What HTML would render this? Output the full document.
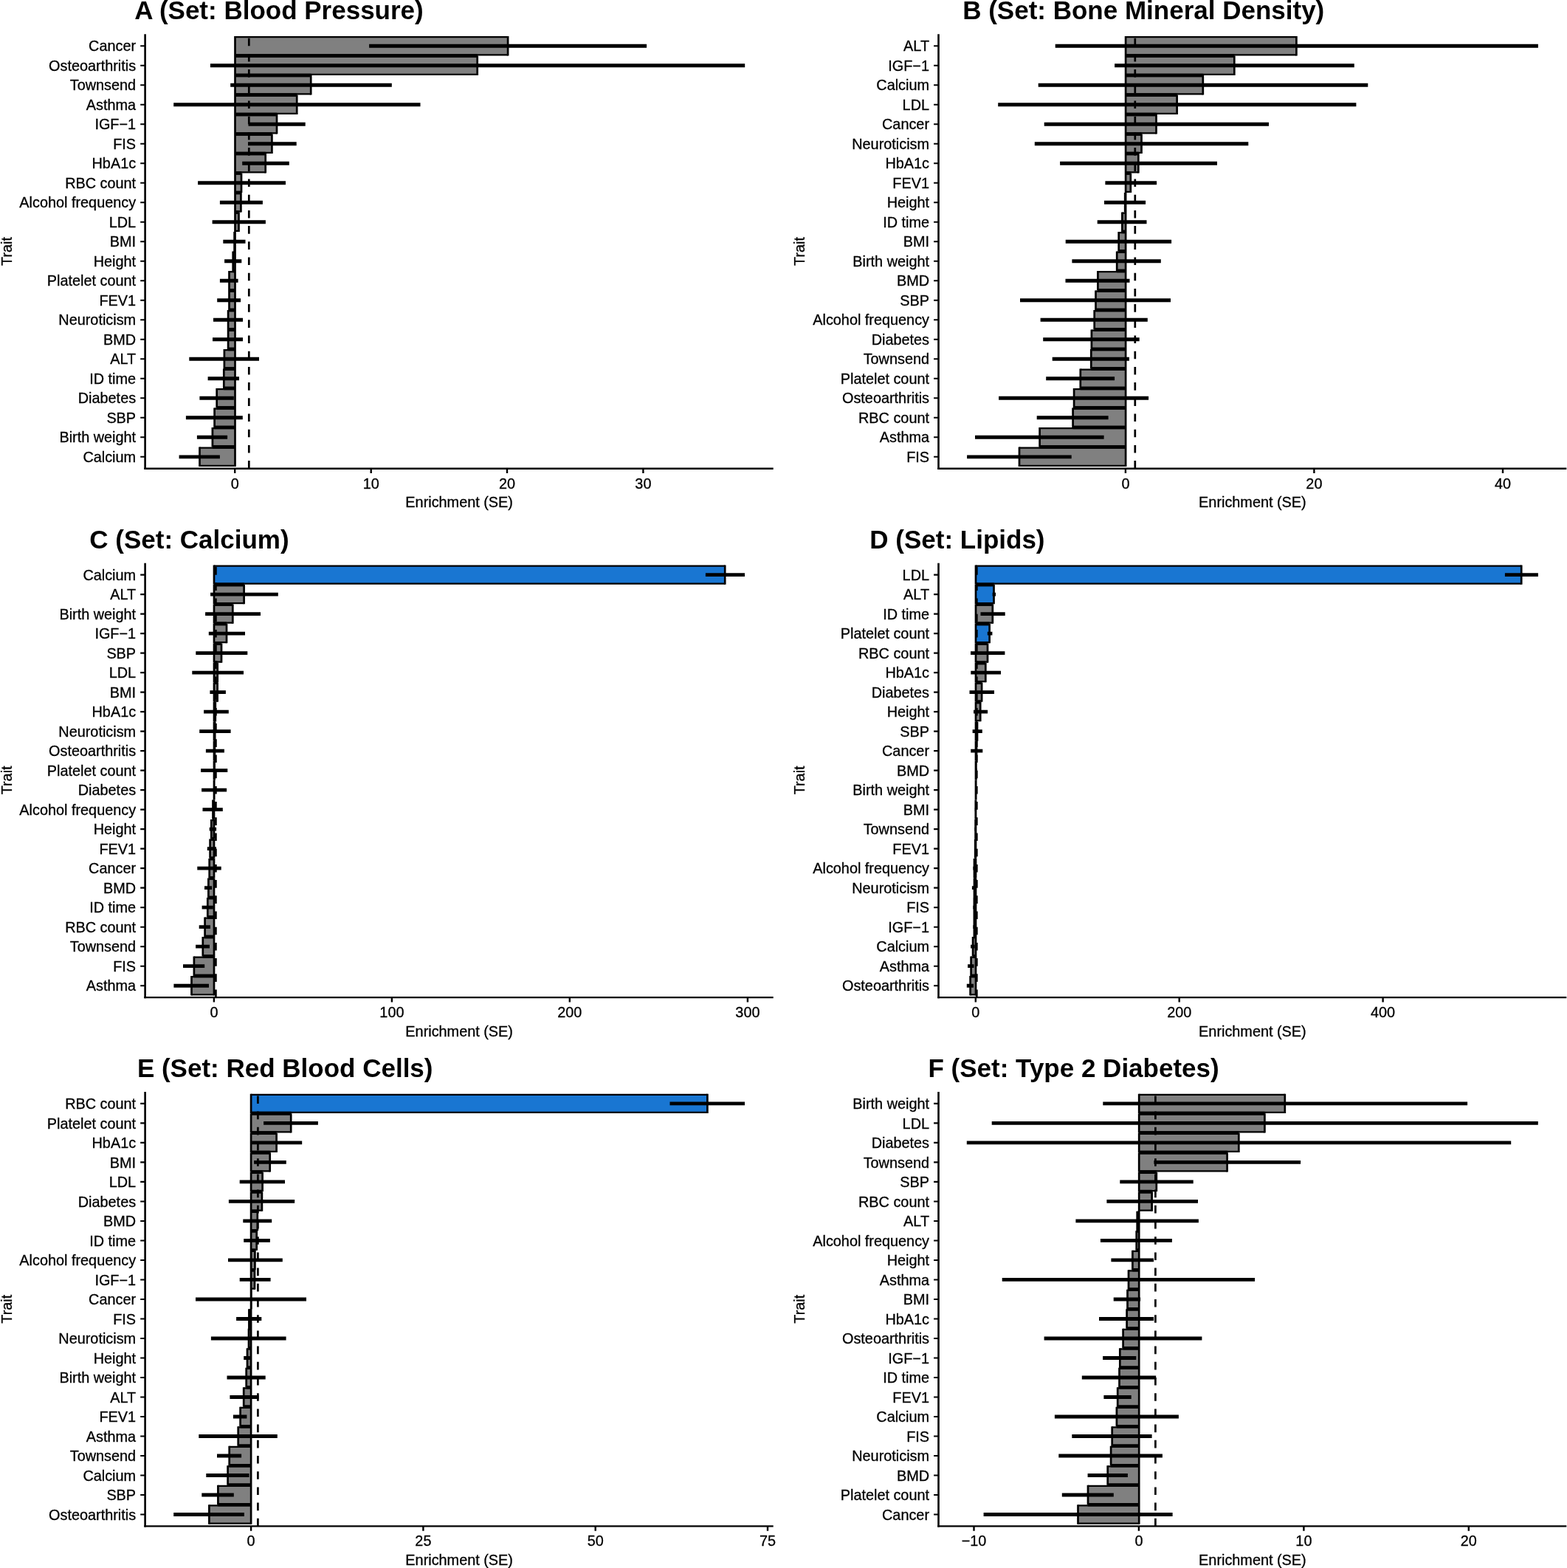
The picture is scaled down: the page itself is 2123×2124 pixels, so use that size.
<!DOCTYPE html>
<html lang="en"><head><meta charset="utf-8"><title>Enrichment (SE) by trait set</title>
<style>html,body{margin:0;padding:0;background:#fff}body{width:2123px;height:2124px;overflow:hidden}svg{display:block}text{font-family:"Liberation Sans",sans-serif;fill:#000}.t{font-size:35px;font-weight:bold}.l{font-size:19.85px;stroke:#000;stroke-width:.3px}.y{text-anchor:end}.x{text-anchor:middle}path,line{fill:none;stroke:#000}.ya{stroke-width:2.6}.xa{stroke-width:2.35}.yt{stroke-width:2.1}.xt{stroke-width:2.4}.g{fill:#808080;stroke:none}.u{fill:#1976d2;stroke:none}.k{fill:#000;stroke:none}.bh{stroke-width:2.25}.bv{stroke-width:2.7}.e{stroke-width:4.85}.d{stroke-width:2.7;stroke-dasharray:10.6 10.6}</style></head><body>
<svg width="2123" height="2124" viewBox="0 0 2123 2124">
<rect class="k" width="2123" height="2124" style="fill:#fff"/>
<g>
<text class="t" x="182.2" y="26">A (Set: Blood Pressure)</text>
<text class="l x" transform="translate(15.7 340.5) rotate(-90)">Trait</text>
<path class="g" d="M318.5 50.13H688.1V74.28H318.5ZM318.5 76.63H646.7V100.78H318.5ZM318.5 103.13H421.2V127.29H318.5ZM318.5 129.64H402.2V153.79H318.5ZM318.5 156.14H375V180.3H318.5ZM318.5 182.65H368.4V206.8H318.5ZM318.5 209.15H359.7V233.31H318.5ZM318.5 235.66H327V259.81H318.5ZM318.5 262.16H326.4V286.32H318.5ZM318.5 288.67H323.5V312.82H318.5ZM317.6 315.17H318.5V339.32H317.6ZM315.7 341.68H318.5V365.83H315.7ZM310.5 368.18H318.5V392.33H310.5ZM310.5 394.68H318.5V418.84H310.5ZM309.1 421.19H318.5V445.34H309.1ZM309.1 447.69H318.5V471.85H309.1ZM303.9 474.2H318.5V498.35H303.9ZM303.3 500.7H318.5V524.86H303.3ZM293.7 527.21H318.5V551.36H293.7ZM290.6 553.71H318.5V577.87H290.6ZM287.9 580.22H318.5V604.37H287.9ZM270.5 606.72H318.5V630.87H270.5Z"/>
<path class="k" d="M318.5 73.15H646.7V77.76H318.5ZM318.5 99.66H421.2V104.26H318.5ZM318.5 126.16H402.2V130.76H318.5ZM318.5 152.67H375V157.27H318.5ZM318.5 179.17H368.4V183.77H318.5ZM318.5 205.68H359.7V210.28H318.5ZM318.5 232.18H327V236.78H318.5ZM318.5 258.69H326.4V263.29H318.5ZM318.5 285.19H323.5V289.79H318.5ZM317.6 338.2H318.5V342.8H317.6ZM315.7 364.7H318.5V369.3H315.7ZM310.5 391.21H318.5V395.81H310.5ZM310.5 417.71H318.5V422.31H310.5ZM309.1 444.22H318.5V448.82H309.1ZM309.1 470.72H318.5V475.32H309.1ZM303.9 497.23H318.5V501.83H303.9ZM303.3 523.73H318.5V528.33H303.3ZM293.7 550.24H318.5V554.84H293.7ZM290.6 576.74H318.5V581.34H290.6ZM287.9 603.24H318.5V607.85H287.9Z"/>
<path class="bh" d="M318.5 50.13H688.1M318.5 74.28H688.1M318.5 76.63H646.7M318.5 100.78H646.7M318.5 103.13H421.2M318.5 127.29H421.2M318.5 129.64H402.2M318.5 153.79H402.2M318.5 156.14H375M318.5 180.3H375M318.5 182.65H368.4M318.5 206.8H368.4M318.5 209.15H359.7M318.5 233.31H359.7M318.5 235.66H327M318.5 259.81H327M318.5 262.16H326.4M318.5 286.32H326.4M318.5 288.67H323.5M318.5 312.82H323.5M317.6 315.17H318.5M317.6 339.32H318.5M315.7 341.68H318.5M315.7 365.83H318.5M310.5 368.18H318.5M310.5 392.33H318.5M310.5 394.68H318.5M310.5 418.84H318.5M309.1 421.19H318.5M309.1 445.34H318.5M309.1 447.69H318.5M309.1 471.85H318.5M303.9 474.2H318.5M303.9 498.35H318.5M303.3 500.7H318.5M303.3 524.86H318.5M293.7 527.21H318.5M293.7 551.36H318.5M290.6 553.71H318.5M290.6 577.87H318.5M287.9 580.22H318.5M287.9 604.37H318.5M270.5 606.72H318.5M270.5 630.87H318.5"/>
<path class="bv" d="M318.5 49V75.4M688.1 49V75.4M318.5 75.51V101.91M646.7 75.51V101.91M318.5 102.01V128.41M421.2 102.01V128.41M318.5 128.51V154.92M402.2 128.51V154.92M318.5 155.02V181.42M375 155.02V181.42M318.5 181.52V207.93M368.4 181.52V207.93M318.5 208.03V234.43M359.7 208.03V234.43M318.5 234.53V260.94M327 234.53V260.94M318.5 261.04V287.44M326.4 261.04V287.44M318.5 287.54V313.95M323.5 287.54V313.95M317.6 314.05V340.45M318.5 314.05V340.45M315.7 340.55V366.95M318.5 340.55V366.95M310.5 367.05V393.46M318.5 367.05V393.46M310.5 393.56V419.96M318.5 393.56V419.96M309.1 420.06V446.47M318.5 420.06V446.47M309.1 446.57V472.97M318.5 446.57V472.97M303.9 473.07V499.48M318.5 473.07V499.48M303.3 499.58V525.98M318.5 499.58V525.98M293.7 526.08V552.49M318.5 526.08V552.49M290.6 552.59V578.99M318.5 552.59V578.99M287.9 579.09V605.49M318.5 579.09V605.49M270.5 605.6V632M318.5 605.6V632"/>
<path class="e" d="M500.1 62.2H876.1M284.9 88.71H1009.2M312.2 115.21H530.8M235.2 141.72H569.5M336.5 168.22H413.7M336 194.73H401.7M328.2 221.23H391.8M268.1 247.73H387M297.9 274.24H355.9M287.6 300.74H359.9M302.3 327.25H332.5M304.1 353.75H327.3M297.9 380.26H322.6M294.2 406.76H326.1M289 433.27H329M288 459.77H329M256.3 486.27H351M281.6 512.78H324M270.4 539.28H316.8M251.9 565.79H328.8M266.9 592.29H308.1M242.6 618.8H297.9"/>
<line class="d" x1="337.3" x2="337.3" y1="634.7" y2="46.3" stroke-dashoffset="0"/>
<path class="xa" d="M195.3 634.7H1047.7"/>
<path class="ya" d="M196.6 46.3V635.87"/>
<path class="yt" d="M196.6 62.2h-6.4M196.6 88.71h-6.4M196.6 115.21h-6.4M196.6 141.72h-6.4M196.6 168.22h-6.4M196.6 194.73h-6.4M196.6 221.23h-6.4M196.6 247.73h-6.4M196.6 274.24h-6.4M196.6 300.74h-6.4M196.6 327.25h-6.4M196.6 353.75h-6.4M196.6 380.26h-6.4M196.6 406.76h-6.4M196.6 433.27h-6.4M196.6 459.77h-6.4M196.6 486.27h-6.4M196.6 512.78h-6.4M196.6 539.28h-6.4M196.6 565.79h-6.4M196.6 592.29h-6.4M196.6 618.8h-6.4"/>
<path class="xt" d="M318.2 634.7v6.4M502.7 634.7v6.4M687 634.7v6.4M871.4 634.7v6.4"/>
<text class="l y" x="184.1" y="69.3">Cancer</text>
<text class="l y" x="184.1" y="95.81">Osteoarthritis</text>
<text class="l y" x="184.1" y="122.31">Townsend</text>
<text class="l y" x="184.1" y="148.82">Asthma</text>
<text class="l y" x="184.1" y="175.32">IGF−1</text>
<text class="l y" x="184.1" y="201.83">FIS</text>
<text class="l y" x="184.1" y="228.33">HbA1c</text>
<text class="l y" x="184.1" y="254.83">RBC count</text>
<text class="l y" x="184.1" y="281.34">Alcohol frequency</text>
<text class="l y" x="184.1" y="307.84">LDL</text>
<text class="l y" x="184.1" y="334.35">BMI</text>
<text class="l y" x="184.1" y="360.85">Height</text>
<text class="l y" x="184.1" y="387.36">Platelet count</text>
<text class="l y" x="184.1" y="413.86">FEV1</text>
<text class="l y" x="184.1" y="440.37">Neuroticism</text>
<text class="l y" x="184.1" y="466.87">BMD</text>
<text class="l y" x="184.1" y="493.37">ALT</text>
<text class="l y" x="184.1" y="519.88">ID time</text>
<text class="l y" x="184.1" y="546.38">Diabetes</text>
<text class="l y" x="184.1" y="572.89">SBP</text>
<text class="l y" x="184.1" y="599.39">Birth weight</text>
<text class="l y" x="184.1" y="625.9">Calcium</text>
<text class="l x" x="318.2" y="661.5">0</text>
<text class="l x" x="502.7" y="661.5">10</text>
<text class="l x" x="687" y="661.5">20</text>
<text class="l x" x="871.4" y="661.5">30</text>
<text class="l x" x="622.15" y="687.3">Enrichment (SE)</text>
</g>
<g>
<text class="t" x="1304.2" y="26">B (Set: Bone Mineral Density)</text>
<text class="l x" transform="translate(1089.7 340.5) rotate(-90)">Trait</text>
<path class="g" d="M1525.1 50.13H1756.4V74.28H1525.1ZM1525.1 76.63H1672.3V100.78H1525.1ZM1525.1 103.13H1629.8V127.29H1525.1ZM1525.1 129.64H1594.6V153.79H1525.1ZM1525.1 156.14H1566.5V180.3H1525.1ZM1525.1 182.65H1546.5V206.8H1525.1ZM1525.1 209.15H1542.3V233.31H1525.1ZM1525.1 235.66H1531.8V259.81H1525.1ZM1524.2 262.16H1525.1V286.32H1524.2ZM1520.4 288.67H1525.1V312.82H1520.4ZM1515.7 315.17H1525.1V339.32H1515.7ZM1513.2 341.68H1525.1V365.83H1513.2ZM1487.4 368.18H1525.1V392.33H1487.4ZM1484.5 394.68H1525.1V418.84H1484.5ZM1482.7 421.19H1525.1V445.34H1482.7ZM1478.9 447.69H1525.1V471.85H1478.9ZM1478.3 474.2H1525.1V498.35H1478.3ZM1463.8 500.7H1525.1V524.86H1463.8ZM1455.1 527.21H1525.1V551.36H1455.1ZM1453.6 553.71H1525.1V577.87H1453.6ZM1408.6 580.22H1525.1V604.37H1408.6ZM1381 606.72H1525.1V630.87H1381Z"/>
<path class="k" d="M1525.1 73.15H1672.3V77.76H1525.1ZM1525.1 99.66H1629.8V104.26H1525.1ZM1525.1 126.16H1594.6V130.76H1525.1ZM1525.1 152.67H1566.5V157.27H1525.1ZM1525.1 179.17H1546.5V183.77H1525.1ZM1525.1 205.68H1542.3V210.28H1525.1ZM1525.1 232.18H1531.8V236.78H1525.1ZM1524.2 285.19H1525.1V289.79H1524.2ZM1520.4 311.7H1525.1V316.3H1520.4ZM1515.7 338.2H1525.1V342.8H1515.7ZM1513.2 364.7H1525.1V369.3H1513.2ZM1487.4 391.21H1525.1V395.81H1487.4ZM1484.5 417.71H1525.1V422.31H1484.5ZM1482.7 444.22H1525.1V448.82H1482.7ZM1478.9 470.72H1525.1V475.32H1478.9ZM1478.3 497.23H1525.1V501.83H1478.3ZM1463.8 523.73H1525.1V528.33H1463.8ZM1455.1 550.24H1525.1V554.84H1455.1ZM1453.6 576.74H1525.1V581.34H1453.6ZM1408.6 603.24H1525.1V607.85H1408.6Z"/>
<path class="bh" d="M1525.1 50.13H1756.4M1525.1 74.28H1756.4M1525.1 76.63H1672.3M1525.1 100.78H1672.3M1525.1 103.13H1629.8M1525.1 127.29H1629.8M1525.1 129.64H1594.6M1525.1 153.79H1594.6M1525.1 156.14H1566.5M1525.1 180.3H1566.5M1525.1 182.65H1546.5M1525.1 206.8H1546.5M1525.1 209.15H1542.3M1525.1 233.31H1542.3M1525.1 235.66H1531.8M1525.1 259.81H1531.8M1524.2 262.16H1525.1M1524.2 286.32H1525.1M1520.4 288.67H1525.1M1520.4 312.82H1525.1M1515.7 315.17H1525.1M1515.7 339.32H1525.1M1513.2 341.68H1525.1M1513.2 365.83H1525.1M1487.4 368.18H1525.1M1487.4 392.33H1525.1M1484.5 394.68H1525.1M1484.5 418.84H1525.1M1482.7 421.19H1525.1M1482.7 445.34H1525.1M1478.9 447.69H1525.1M1478.9 471.85H1525.1M1478.3 474.2H1525.1M1478.3 498.35H1525.1M1463.8 500.7H1525.1M1463.8 524.86H1525.1M1455.1 527.21H1525.1M1455.1 551.36H1525.1M1453.6 553.71H1525.1M1453.6 577.87H1525.1M1408.6 580.22H1525.1M1408.6 604.37H1525.1M1381 606.72H1525.1M1381 630.87H1525.1"/>
<path class="bv" d="M1525.1 49V75.4M1756.4 49V75.4M1525.1 75.51V101.91M1672.3 75.51V101.91M1525.1 102.01V128.41M1629.8 102.01V128.41M1525.1 128.51V154.92M1594.6 128.51V154.92M1525.1 155.02V181.42M1566.5 155.02V181.42M1525.1 181.52V207.93M1546.5 181.52V207.93M1525.1 208.03V234.43M1542.3 208.03V234.43M1525.1 234.53V260.94M1531.8 234.53V260.94M1524.2 261.04V287.44M1525.1 261.04V287.44M1520.4 287.54V313.95M1525.1 287.54V313.95M1515.7 314.05V340.45M1525.1 314.05V340.45M1513.2 340.55V366.95M1525.1 340.55V366.95M1487.4 367.05V393.46M1525.1 367.05V393.46M1484.5 393.56V419.96M1525.1 393.56V419.96M1482.7 420.06V446.47M1525.1 420.06V446.47M1478.9 446.57V472.97M1525.1 446.57V472.97M1478.3 473.07V499.48M1525.1 473.07V499.48M1463.8 499.58V525.98M1525.1 499.58V525.98M1455.1 526.08V552.49M1525.1 526.08V552.49M1453.6 552.59V578.99M1525.1 552.59V578.99M1408.6 579.09V605.49M1525.1 579.09V605.49M1381 605.6V632M1525.1 605.6V632"/>
<path class="e" d="M1429.7 62.2H2083.9M1510.1 88.71H1834.8M1406.7 115.21H1853.3M1352.2 141.72H1837.4M1414.7 168.22H1719M1401.8 194.73H1691.3M1436.1 221.23H1649M1497.4 247.73H1567.1M1496 274.24H1552.1M1486.7 300.74H1553.5M1443.7 327.25H1587.1M1452.4 353.75H1572.8M1443.5 380.26H1530.5M1382 406.76H1586M1409.6 433.27H1554.8M1413.2 459.77H1543.7M1425.7 486.27H1529.9M1417.2 512.78H1510.1M1353.1 539.28H1556.1M1404.7 565.79H1501.6M1321 592.29H1495.6M1310.1 618.8H1451.7"/>
<line class="d" x1="1537.8" x2="1537.8" y1="634.7" y2="46.3" stroke-dashoffset="0"/>
<path class="xa" d="M1270.2 634.7H2122.3"/>
<path class="ya" d="M1271.5 46.3V635.87"/>
<path class="yt" d="M1271.5 62.2h-6.4M1271.5 88.71h-6.4M1271.5 115.21h-6.4M1271.5 141.72h-6.4M1271.5 168.22h-6.4M1271.5 194.73h-6.4M1271.5 221.23h-6.4M1271.5 247.73h-6.4M1271.5 274.24h-6.4M1271.5 300.74h-6.4M1271.5 327.25h-6.4M1271.5 353.75h-6.4M1271.5 380.26h-6.4M1271.5 406.76h-6.4M1271.5 433.27h-6.4M1271.5 459.77h-6.4M1271.5 486.27h-6.4M1271.5 512.78h-6.4M1271.5 539.28h-6.4M1271.5 565.79h-6.4M1271.5 592.29h-6.4M1271.5 618.8h-6.4"/>
<path class="xt" d="M1524.9 634.7v6.4M1780.4 634.7v6.4M2036 634.7v6.4"/>
<text class="l y" x="1259" y="69.3">ALT</text>
<text class="l y" x="1259" y="95.81">IGF−1</text>
<text class="l y" x="1259" y="122.31">Calcium</text>
<text class="l y" x="1259" y="148.82">LDL</text>
<text class="l y" x="1259" y="175.32">Cancer</text>
<text class="l y" x="1259" y="201.83">Neuroticism</text>
<text class="l y" x="1259" y="228.33">HbA1c</text>
<text class="l y" x="1259" y="254.83">FEV1</text>
<text class="l y" x="1259" y="281.34">Height</text>
<text class="l y" x="1259" y="307.84">ID time</text>
<text class="l y" x="1259" y="334.35">BMI</text>
<text class="l y" x="1259" y="360.85">Birth weight</text>
<text class="l y" x="1259" y="387.36">BMD</text>
<text class="l y" x="1259" y="413.86">SBP</text>
<text class="l y" x="1259" y="440.37">Alcohol frequency</text>
<text class="l y" x="1259" y="466.87">Diabetes</text>
<text class="l y" x="1259" y="493.37">Townsend</text>
<text class="l y" x="1259" y="519.88">Platelet count</text>
<text class="l y" x="1259" y="546.38">Osteoarthritis</text>
<text class="l y" x="1259" y="572.89">RBC count</text>
<text class="l y" x="1259" y="599.39">Asthma</text>
<text class="l y" x="1259" y="625.9">FIS</text>
<text class="l x" x="1524.9" y="661.5">0</text>
<text class="l x" x="1780.4" y="661.5">20</text>
<text class="l x" x="2036" y="661.5">40</text>
<text class="l x" x="1696.9" y="687.3">Enrichment (SE)</text>
</g>
<g>
<text class="t" x="121.3" y="742.7">C (Set: Calcium)</text>
<text class="l x" transform="translate(15.7 1056.9) rotate(-90)">Trait</text>
<path class="g" d="M290 793.03H330.6V817.18H290ZM290 819.53H315.3V843.69H290ZM290 846.04H307V870.19H290ZM290 872.54H300V896.7H290ZM290 899.05H294.7V923.2H290ZM290 925.55H294.6V949.71H290ZM290 952.06H291.8V976.21H290ZM290 978.56H291.2V1002.72H290ZM290 1005.07H290.9V1029.22H290ZM290 1031.57H290.6V1055.72H290ZM290 1058.08H290.2V1082.23H290ZM288.5 1084.58H290V1108.73H288.5ZM286.3 1111.08H290V1135.24H286.3ZM284.6 1137.59H290V1161.74H284.6ZM283.7 1164.09H290V1188.25H283.7ZM282.4 1190.6H290V1214.75H282.4ZM281.3 1217.1H290V1241.26H281.3ZM277.6 1243.61H290V1267.76H277.6ZM274.8 1270.11H290V1294.27H274.8ZM262.9 1296.62H290V1320.77H262.9ZM259.5 1323.12H290V1347.27H259.5Z"/>
<path class="u" d="M290 766.53H982.2V790.68H290Z"/>
<path class="k" d="M290 789.55H330.6V794.16H290ZM290 816.06H315.3V820.66H290ZM290 842.56H307V847.16H290ZM290 869.07H300V873.67H290ZM290 895.57H294.7V900.17H290ZM290 922.08H294.6V926.68H290ZM290 948.58H291.8V953.18H290ZM290 975.09H291.2V979.69H290ZM290 1001.59H290.9V1006.19H290ZM290 1028.1H290.6V1032.7H290ZM290 1054.6H290.2V1059.2H290ZM288.5 1107.61H290V1112.21H288.5ZM286.3 1134.11H290V1138.71H286.3ZM284.6 1160.62H290V1165.22H284.6ZM283.7 1187.12H290V1191.72H283.7ZM282.4 1213.63H290V1218.23H282.4ZM281.3 1240.13H290V1244.73H281.3ZM277.6 1266.64H290V1271.24H277.6ZM274.8 1293.14H290V1297.74H274.8ZM262.9 1319.64H290V1324.25H262.9Z"/>
<path class="bh" d="M290 766.53H982.2M290 790.68H982.2M290 793.03H330.6M290 817.18H330.6M290 819.53H315.3M290 843.69H315.3M290 846.04H307M290 870.19H307M290 872.54H300M290 896.7H300M290 899.05H294.7M290 923.2H294.7M290 925.55H294.6M290 949.71H294.6M290 952.06H291.8M290 976.21H291.8M290 978.56H291.2M290 1002.72H291.2M290 1005.07H290.9M290 1029.22H290.9M290 1031.57H290.6M290 1055.72H290.6M290 1058.08H290.2M290 1082.23H290.2M288.5 1084.58H290M288.5 1108.73H290M286.3 1111.08H290M286.3 1135.24H290M284.6 1137.59H290M284.6 1161.74H290M283.7 1164.09H290M283.7 1188.25H290M282.4 1190.6H290M282.4 1214.75H290M281.3 1217.1H290M281.3 1241.26H290M277.6 1243.61H290M277.6 1267.76H290M274.8 1270.11H290M274.8 1294.27H290M262.9 1296.62H290M262.9 1320.77H290M259.5 1323.12H290M259.5 1347.27H290"/>
<path class="bv" d="M290 765.4V791.8M982.2 765.4V791.8M290 791.91V818.31M330.6 791.91V818.31M290 818.41V844.81M315.3 818.41V844.81M290 844.91V871.32M307 844.91V871.32M290 871.42V897.82M300 871.42V897.82M290 897.92V924.33M294.7 897.92V924.33M290 924.43V950.83M294.6 924.43V950.83M290 950.93V977.34M291.8 950.93V977.34M290 977.44V1003.84M291.2 977.44V1003.84M290 1003.94V1030.35M290.9 1003.94V1030.35M290 1030.45V1056.85M290.6 1030.45V1056.85M290 1056.95V1083.35M290.2 1056.95V1083.35M288.5 1083.45V1109.86M290 1083.45V1109.86M286.3 1109.96V1136.36M290 1109.96V1136.36M284.6 1136.46V1162.87M290 1136.46V1162.87M283.7 1162.97V1189.37M290 1162.97V1189.37M282.4 1189.47V1215.88M290 1189.47V1215.88M281.3 1215.98V1242.38M290 1215.98V1242.38M277.6 1242.48V1268.89M290 1242.48V1268.89M274.8 1268.99V1295.39M290 1268.99V1295.39M262.9 1295.49V1321.89M290 1295.49V1321.89M259.5 1322V1348.4M290 1322V1348.4"/>
<path class="e" d="M955.9 778.6H1009M285.1 805.11H376.8M278.1 831.61H353M282.8 858.12H332M265.3 884.62H335.3M260.3 911.13H330M284.4 937.63H305.9M276.1 964.13H309.8M270.2 990.64H312.6M278.9 1017.14H303.9M272.1 1043.65H308.3M273.1 1070.15H307.1M274.5 1096.66H301.8M283.7 1123.16H293.1M280.8 1149.67H293M267.3 1176.17H299.7M277 1202.67H287.1M273.6 1229.18H288.8M269.7 1255.68H284.9M265.1 1282.19H284M248 1308.69H277.2M235.4 1335.2H283"/>
<line class="d" x1="292.4" x2="292.4" y1="1351.1" y2="762.7" stroke-dashoffset="0"/>
<path class="xa" d="M195.3 1351.1H1047.7"/>
<path class="ya" d="M196.6 762.7V1352.27"/>
<path class="yt" d="M196.6 778.6h-6.4M196.6 805.11h-6.4M196.6 831.61h-6.4M196.6 858.12h-6.4M196.6 884.62h-6.4M196.6 911.13h-6.4M196.6 937.63h-6.4M196.6 964.13h-6.4M196.6 990.64h-6.4M196.6 1017.14h-6.4M196.6 1043.65h-6.4M196.6 1070.15h-6.4M196.6 1096.66h-6.4M196.6 1123.16h-6.4M196.6 1149.67h-6.4M196.6 1176.17h-6.4M196.6 1202.67h-6.4M196.6 1229.18h-6.4M196.6 1255.68h-6.4M196.6 1282.19h-6.4M196.6 1308.69h-6.4M196.6 1335.2h-6.4"/>
<path class="xt" d="M289.9 1351.1v6.4M530.9 1351.1v6.4M771.8 1351.1v6.4M1012.9 1351.1v6.4"/>
<text class="l y" x="184.1" y="785.7">Calcium</text>
<text class="l y" x="184.1" y="812.21">ALT</text>
<text class="l y" x="184.1" y="838.71">Birth weight</text>
<text class="l y" x="184.1" y="865.22">IGF−1</text>
<text class="l y" x="184.1" y="891.72">SBP</text>
<text class="l y" x="184.1" y="918.23">LDL</text>
<text class="l y" x="184.1" y="944.73">BMI</text>
<text class="l y" x="184.1" y="971.23">HbA1c</text>
<text class="l y" x="184.1" y="997.74">Neuroticism</text>
<text class="l y" x="184.1" y="1024.24">Osteoarthritis</text>
<text class="l y" x="184.1" y="1050.75">Platelet count</text>
<text class="l y" x="184.1" y="1077.25">Diabetes</text>
<text class="l y" x="184.1" y="1103.76">Alcohol frequency</text>
<text class="l y" x="184.1" y="1130.26">Height</text>
<text class="l y" x="184.1" y="1156.77">FEV1</text>
<text class="l y" x="184.1" y="1183.27">Cancer</text>
<text class="l y" x="184.1" y="1209.77">BMD</text>
<text class="l y" x="184.1" y="1236.28">ID time</text>
<text class="l y" x="184.1" y="1262.78">RBC count</text>
<text class="l y" x="184.1" y="1289.29">Townsend</text>
<text class="l y" x="184.1" y="1315.79">FIS</text>
<text class="l y" x="184.1" y="1342.3">Asthma</text>
<text class="l x" x="289.9" y="1377.9">0</text>
<text class="l x" x="530.9" y="1377.9">100</text>
<text class="l x" x="771.8" y="1377.9">200</text>
<text class="l x" x="1012.9" y="1377.9">300</text>
<text class="l x" x="622.15" y="1403.7">Enrichment (SE)</text>
</g>
<g>
<text class="t" x="1178.3" y="742.7">D (Set: Lipids)</text>
<text class="l x" transform="translate(1089.7 1056.9) rotate(-90)">Trait</text>
<path class="g" d="M1322 819.53H1344.8V843.69H1322ZM1322 872.54H1338V896.7H1322ZM1322 899.05H1335.3V923.2H1322ZM1322 925.55H1330.1V949.71H1322ZM1322 952.06H1328.2V976.21H1322ZM1322 978.56H1324V1002.72H1322ZM1322 1005.07H1323V1029.22H1322ZM1322 1031.57H1322.4V1055.72H1322ZM1322 1058.08H1322.2V1082.23H1322ZM1321.8 1084.58H1322V1108.73H1321.8ZM1321.6 1111.08H1322V1135.24H1321.6ZM1321.2 1137.59H1322V1161.74H1321.2ZM1320 1164.09H1322V1188.25H1320ZM1320 1190.6H1322V1214.75H1320ZM1319.9 1217.1H1322V1241.26H1319.9ZM1319.9 1243.61H1322V1267.76H1319.9ZM1318.1 1270.11H1322V1294.27H1318.1ZM1315.6 1296.62H1322V1320.77H1315.6ZM1314.6 1323.12H1322V1347.27H1314.6Z"/>
<path class="u" d="M1322 766.53H2061.2V790.68H1322ZM1322 793.03H1346.5V817.18H1322ZM1322 846.04H1340.6V870.19H1322Z"/>
<path class="k" d="M1322 789.55H1346.5V794.16H1322ZM1322 816.06H1344.8V820.66H1322ZM1322 842.56H1340.6V847.16H1322ZM1322 869.07H1338V873.67H1322ZM1322 895.57H1335.3V900.17H1322ZM1322 922.08H1330.1V926.68H1322ZM1322 948.58H1328.2V953.18H1322ZM1322 975.09H1324V979.69H1322ZM1322 1001.59H1323V1006.19H1322ZM1322 1028.1H1322.4V1032.7H1322ZM1322 1054.6H1322.2V1059.2H1322ZM1321.8 1107.61H1322V1112.21H1321.8ZM1321.6 1134.11H1322V1138.71H1321.6ZM1321.2 1160.62H1322V1165.22H1321.2ZM1320 1187.12H1322V1191.72H1320ZM1320 1213.63H1322V1218.23H1320ZM1319.9 1240.13H1322V1244.73H1319.9ZM1319.9 1266.64H1322V1271.24H1319.9ZM1318.1 1293.14H1322V1297.74H1318.1ZM1315.6 1319.64H1322V1324.25H1315.6Z"/>
<path class="bh" d="M1322 766.53H2061.2M1322 790.68H2061.2M1322 793.03H1346.5M1322 817.18H1346.5M1322 819.53H1344.8M1322 843.69H1344.8M1322 846.04H1340.6M1322 870.19H1340.6M1322 872.54H1338M1322 896.7H1338M1322 899.05H1335.3M1322 923.2H1335.3M1322 925.55H1330.1M1322 949.71H1330.1M1322 952.06H1328.2M1322 976.21H1328.2M1322 978.56H1324M1322 1002.72H1324M1322 1005.07H1323M1322 1029.22H1323M1322 1031.57H1322.4M1322 1055.72H1322.4M1322 1058.08H1322.2M1322 1082.23H1322.2M1321.8 1084.58H1322M1321.8 1108.73H1322M1321.6 1111.08H1322M1321.6 1135.24H1322M1321.2 1137.59H1322M1321.2 1161.74H1322M1320 1164.09H1322M1320 1188.25H1322M1320 1190.6H1322M1320 1214.75H1322M1319.9 1217.1H1322M1319.9 1241.26H1322M1319.9 1243.61H1322M1319.9 1267.76H1322M1318.1 1270.11H1322M1318.1 1294.27H1322M1315.6 1296.62H1322M1315.6 1320.77H1322M1314.6 1323.12H1322M1314.6 1347.27H1322"/>
<path class="bv" d="M1322 765.4V791.8M2061.2 765.4V791.8M1322 791.91V818.31M1346.5 791.91V818.31M1322 818.41V844.81M1344.8 818.41V844.81M1322 844.91V871.32M1340.6 844.91V871.32M1322 871.42V897.82M1338 871.42V897.82M1322 897.92V924.33M1335.3 897.92V924.33M1322 924.43V950.83M1330.1 924.43V950.83M1322 950.93V977.34M1328.2 950.93V977.34M1322 977.44V1003.84M1324 977.44V1003.84M1322 1003.94V1030.35M1323 1003.94V1030.35M1322 1030.45V1056.85M1322.4 1030.45V1056.85M1322 1056.95V1083.35M1322.2 1056.95V1083.35M1321.8 1083.45V1109.86M1322 1083.45V1109.86M1321.6 1109.96V1136.36M1322 1109.96V1136.36M1321.2 1136.46V1162.87M1322 1136.46V1162.87M1320 1162.97V1189.37M1322 1162.97V1189.37M1320 1189.47V1215.88M1322 1189.47V1215.88M1319.9 1215.98V1242.38M1322 1215.98V1242.38M1319.9 1242.48V1268.89M1322 1242.48V1268.89M1318.1 1268.99V1295.39M1322 1268.99V1295.39M1315.6 1295.49V1321.89M1322 1295.49V1321.89M1314.6 1322V1348.4M1322 1322V1348.4"/>
<path class="e" d="M2038.9 778.6H2083.9M1344.6 805.11H1349M1328.5 831.61H1361.7M1337.8 858.12H1344.4M1315 884.62H1361.4M1315.3 911.13H1356M1313.5 937.63H1347M1319 964.13H1338.1M1317.6 990.64H1330.8M1315.2 1017.14H1331.3M1321 1043.65H1323.8M1321 1070.15H1323.5M1320.8 1096.66H1323M1320.4 1123.16H1322.8M1320 1149.67H1322.4M1318.4 1176.17H1321.8M1316.9 1202.67H1323M1318.4 1229.18H1321.4M1318.4 1255.68H1321.4M1315.1 1282.19H1320.7M1311.1 1308.69H1319.5M1309.8 1335.2H1319"/>
<line class="d" x1="1323.3" x2="1323.3" y1="1351.1" y2="762.7" stroke-dashoffset="0"/>
<path class="xa" d="M1270.2 1351.1H2122.3"/>
<path class="ya" d="M1271.5 762.7V1352.27"/>
<path class="yt" d="M1271.5 778.6h-6.4M1271.5 805.11h-6.4M1271.5 831.61h-6.4M1271.5 858.12h-6.4M1271.5 884.62h-6.4M1271.5 911.13h-6.4M1271.5 937.63h-6.4M1271.5 964.13h-6.4M1271.5 990.64h-6.4M1271.5 1017.14h-6.4M1271.5 1043.65h-6.4M1271.5 1070.15h-6.4M1271.5 1096.66h-6.4M1271.5 1123.16h-6.4M1271.5 1149.67h-6.4M1271.5 1176.17h-6.4M1271.5 1202.67h-6.4M1271.5 1229.18h-6.4M1271.5 1255.68h-6.4M1271.5 1282.19h-6.4M1271.5 1308.69h-6.4M1271.5 1335.2h-6.4"/>
<path class="xt" d="M1321.8 1351.1v6.4M1597.7 1351.1v6.4M1873.6 1351.1v6.4"/>
<text class="l y" x="1259" y="785.7">LDL</text>
<text class="l y" x="1259" y="812.21">ALT</text>
<text class="l y" x="1259" y="838.71">ID time</text>
<text class="l y" x="1259" y="865.22">Platelet count</text>
<text class="l y" x="1259" y="891.72">RBC count</text>
<text class="l y" x="1259" y="918.23">HbA1c</text>
<text class="l y" x="1259" y="944.73">Diabetes</text>
<text class="l y" x="1259" y="971.23">Height</text>
<text class="l y" x="1259" y="997.74">SBP</text>
<text class="l y" x="1259" y="1024.24">Cancer</text>
<text class="l y" x="1259" y="1050.75">BMD</text>
<text class="l y" x="1259" y="1077.25">Birth weight</text>
<text class="l y" x="1259" y="1103.76">BMI</text>
<text class="l y" x="1259" y="1130.26">Townsend</text>
<text class="l y" x="1259" y="1156.77">FEV1</text>
<text class="l y" x="1259" y="1183.27">Alcohol frequency</text>
<text class="l y" x="1259" y="1209.77">Neuroticism</text>
<text class="l y" x="1259" y="1236.28">FIS</text>
<text class="l y" x="1259" y="1262.78">IGF−1</text>
<text class="l y" x="1259" y="1289.29">Calcium</text>
<text class="l y" x="1259" y="1315.79">Asthma</text>
<text class="l y" x="1259" y="1342.3">Osteoarthritis</text>
<text class="l x" x="1321.8" y="1377.9">0</text>
<text class="l x" x="1597.7" y="1377.9">200</text>
<text class="l x" x="1873.6" y="1377.9">400</text>
<text class="l x" x="1696.9" y="1403.7">Enrichment (SE)</text>
</g>
<g>
<text class="t" x="185.9" y="1458.7">E (Set: Red Blood Cells)</text>
<text class="l x" transform="translate(15.7 1773.2) rotate(-90)">Trait</text>
<path class="g" d="M340.1 1509.33H394.2V1533.48H340.1ZM340.1 1535.83H374.6V1559.99H340.1ZM340.1 1562.34H365.7V1586.49H340.1ZM340.1 1588.84H355.6V1613H340.1ZM340.1 1615.35H354.9V1639.5H340.1ZM340.1 1641.85H348.8V1666.01H340.1ZM340.1 1668.36H347.7V1692.51H340.1ZM340.1 1694.86H345.4V1719.02H340.1ZM340.1 1721.37H345V1745.52H340.1ZM340.1 1747.87H340.4V1772.02H340.1ZM337.4 1774.38H340.1V1798.53H337.4ZM337 1800.88H340.1V1825.03H337ZM335 1827.38H340.1V1851.54H335ZM333.7 1853.89H340.1V1878.04H333.7ZM330.2 1880.39H340.1V1904.55H330.2ZM325.6 1906.9H340.1V1931.05H325.6ZM322.7 1933.4H340.1V1957.56H322.7ZM310.7 1959.91H340.1V1984.06H310.7ZM308.6 1986.41H340.1V2010.57H308.6ZM295.4 2012.92H340.1V2037.07H295.4ZM283.4 2039.42H340.1V2063.57H283.4Z"/>
<path class="u" d="M340.1 1482.83H958.4V1506.98H340.1Z"/>
<path class="k" d="M340.1 1505.85H394.2V1510.46H340.1ZM340.1 1532.36H374.6V1536.96H340.1ZM340.1 1558.86H365.7V1563.46H340.1ZM340.1 1585.37H355.6V1589.97H340.1ZM340.1 1611.87H354.9V1616.47H340.1ZM340.1 1638.38H348.8V1642.98H340.1ZM340.1 1664.88H347.7V1669.48H340.1ZM340.1 1691.39H345.4V1695.99H340.1ZM340.1 1717.89H345V1722.49H340.1ZM340.1 1744.4H340.4V1749H340.1ZM337.4 1797.4H340.1V1802H337.4ZM337 1823.91H340.1V1828.51H337ZM335 1850.41H340.1V1855.01H335ZM333.7 1876.92H340.1V1881.52H333.7ZM330.2 1903.42H340.1V1908.02H330.2ZM325.6 1929.93H340.1V1934.53H325.6ZM322.7 1956.43H340.1V1961.03H322.7ZM310.7 1982.94H340.1V1987.54H310.7ZM308.6 2009.44H340.1V2014.04H308.6ZM295.4 2035.94H340.1V2040.55H295.4Z"/>
<path class="bh" d="M340.1 1482.83H958.4M340.1 1506.98H958.4M340.1 1509.33H394.2M340.1 1533.48H394.2M340.1 1535.83H374.6M340.1 1559.99H374.6M340.1 1562.34H365.7M340.1 1586.49H365.7M340.1 1588.84H355.6M340.1 1613H355.6M340.1 1615.35H354.9M340.1 1639.5H354.9M340.1 1641.85H348.8M340.1 1666.01H348.8M340.1 1668.36H347.7M340.1 1692.51H347.7M340.1 1694.86H345.4M340.1 1719.02H345.4M340.1 1721.37H345M340.1 1745.52H345M340.1 1747.87H340.4M340.1 1772.02H340.4M337.4 1774.38H340.1M337.4 1798.53H340.1M337 1800.88H340.1M337 1825.03H340.1M335 1827.38H340.1M335 1851.54H340.1M333.7 1853.89H340.1M333.7 1878.04H340.1M330.2 1880.39H340.1M330.2 1904.55H340.1M325.6 1906.9H340.1M325.6 1931.05H340.1M322.7 1933.4H340.1M322.7 1957.56H340.1M310.7 1959.91H340.1M310.7 1984.06H340.1M308.6 1986.41H340.1M308.6 2010.57H340.1M295.4 2012.92H340.1M295.4 2037.07H340.1M283.4 2039.42H340.1M283.4 2063.57H340.1"/>
<path class="bv" d="M340.1 1481.7V1508.1M958.4 1481.7V1508.1M340.1 1508.21V1534.61M394.2 1508.21V1534.61M340.1 1534.71V1561.11M374.6 1534.71V1561.11M340.1 1561.21V1587.62M365.7 1561.21V1587.62M340.1 1587.72V1614.12M355.6 1587.72V1614.12M340.1 1614.22V1640.63M354.9 1614.22V1640.63M340.1 1640.73V1667.13M348.8 1640.73V1667.13M340.1 1667.23V1693.64M347.7 1667.23V1693.64M340.1 1693.74V1720.14M345.4 1693.74V1720.14M340.1 1720.24V1746.65M345 1720.24V1746.65M340.1 1746.75V1773.15M340.4 1746.75V1773.15M337.4 1773.25V1799.65M340.1 1773.25V1799.65M337 1799.75V1826.16M340.1 1799.75V1826.16M335 1826.26V1852.66M340.1 1826.26V1852.66M333.7 1852.76V1879.17M340.1 1852.76V1879.17M330.2 1879.27V1905.67M340.1 1879.27V1905.67M325.6 1905.77V1932.18M340.1 1905.77V1932.18M322.7 1932.28V1958.68M340.1 1932.28V1958.68M310.7 1958.78V1985.19M340.1 1958.78V1985.19M308.6 1985.29V2011.69M340.1 1985.29V2011.69M295.4 2011.79V2038.19M340.1 2011.79V2038.19M283.4 2038.3V2064.7M340.1 2038.3V2064.7"/>
<path class="e" d="M907.5 1494.9H1009M357.1 1521.41H430.9M341.1 1547.91H409.2M344.1 1574.42H387.8M324.7 1600.92H386M309.9 1627.43H399.2M329.3 1653.93H368.2M330.2 1680.43H365.9M309 1706.94H382.8M324.7 1733.44H366.6M265 1759.95H415M320.1 1786.45H354.3M285.9 1812.96H387.6M330.2 1839.46H339.6M307.5 1865.97H359.7M311.4 1892.47H350.5M315.9 1918.97H334.4M269.3 1945.48H375.8M294 1971.98H327.1M279.3 1998.49H337.5M273.3 2024.99H316.8M235.2 2051.5H330.9"/>
<line class="d" x1="349.4" x2="349.4" y1="2067.4" y2="1479" stroke-dashoffset="0"/>
<path class="xa" d="M195.3 2067.4H1047.7"/>
<path class="ya" d="M196.6 1479V2068.58"/>
<path class="yt" d="M196.6 1494.9h-6.4M196.6 1521.41h-6.4M196.6 1547.91h-6.4M196.6 1574.42h-6.4M196.6 1600.92h-6.4M196.6 1627.43h-6.4M196.6 1653.93h-6.4M196.6 1680.43h-6.4M196.6 1706.94h-6.4M196.6 1733.44h-6.4M196.6 1759.95h-6.4M196.6 1786.45h-6.4M196.6 1812.96h-6.4M196.6 1839.46h-6.4M196.6 1865.97h-6.4M196.6 1892.47h-6.4M196.6 1918.97h-6.4M196.6 1945.48h-6.4M196.6 1971.98h-6.4M196.6 1998.49h-6.4M196.6 2024.99h-6.4M196.6 2051.5h-6.4"/>
<path class="xt" d="M340.1 2067.4v6.4M573.4 2067.4v6.4M806.7 2067.4v6.4M1040 2067.4v6.4"/>
<text class="l y" x="184.1" y="1502">RBC count</text>
<text class="l y" x="184.1" y="1528.51">Platelet count</text>
<text class="l y" x="184.1" y="1555.01">HbA1c</text>
<text class="l y" x="184.1" y="1581.52">BMI</text>
<text class="l y" x="184.1" y="1608.02">LDL</text>
<text class="l y" x="184.1" y="1634.53">Diabetes</text>
<text class="l y" x="184.1" y="1661.03">BMD</text>
<text class="l y" x="184.1" y="1687.53">ID time</text>
<text class="l y" x="184.1" y="1714.04">Alcohol frequency</text>
<text class="l y" x="184.1" y="1740.54">IGF−1</text>
<text class="l y" x="184.1" y="1767.05">Cancer</text>
<text class="l y" x="184.1" y="1793.55">FIS</text>
<text class="l y" x="184.1" y="1820.06">Neuroticism</text>
<text class="l y" x="184.1" y="1846.56">Height</text>
<text class="l y" x="184.1" y="1873.07">Birth weight</text>
<text class="l y" x="184.1" y="1899.57">ALT</text>
<text class="l y" x="184.1" y="1926.07">FEV1</text>
<text class="l y" x="184.1" y="1952.58">Asthma</text>
<text class="l y" x="184.1" y="1979.08">Townsend</text>
<text class="l y" x="184.1" y="2005.59">Calcium</text>
<text class="l y" x="184.1" y="2032.09">SBP</text>
<text class="l y" x="184.1" y="2058.6">Osteoarthritis</text>
<text class="l x" x="340.1" y="2094.2">0</text>
<text class="l x" x="573.4" y="2094.2">25</text>
<text class="l x" x="806.7" y="2094.2">50</text>
<text class="l x" x="1040" y="2094.2">75</text>
<text class="l x" x="622.15" y="2120">Enrichment (SE)</text>
</g>
<g>
<text class="t" x="1257.5" y="1458.7">F (Set: Type 2 Diabetes)</text>
<text class="l x" transform="translate(1089.7 1773.2) rotate(-90)">Trait</text>
<path class="g" d="M1543.2 1482.83H1740.8V1506.98H1543.2ZM1543.2 1509.33H1713.4V1533.48H1543.2ZM1543.2 1535.83H1678.3V1559.99H1543.2ZM1543.2 1562.34H1662.6V1586.49H1543.2ZM1543.2 1588.84H1566.8V1613H1543.2ZM1543.2 1615.35H1560.6V1639.5H1543.2ZM1540.7 1641.85H1543.2V1666.01H1540.7ZM1539.7 1668.36H1543.2V1692.51H1539.7ZM1534.4 1694.86H1543.2V1719.02H1534.4ZM1529 1721.37H1543.2V1745.52H1529ZM1527.5 1747.87H1543.2V1772.02H1527.5ZM1526.6 1774.38H1543.2V1798.53H1526.6ZM1521.6 1800.88H1543.2V1825.03H1521.6ZM1517.3 1827.38H1543.2V1851.54H1517.3ZM1516.5 1853.89H1543.2V1878.04H1516.5ZM1514.2 1880.39H1543.2V1904.55H1514.2ZM1512.9 1906.9H1543.2V1931.05H1512.9ZM1506.7 1933.4H1543.2V1957.56H1506.7ZM1505.1 1959.91H1543.2V1984.06H1505.1ZM1500.7 1986.41H1543.2V2010.57H1500.7ZM1474 2012.92H1543.2V2037.07H1474ZM1460.5 2039.42H1543.2V2063.57H1460.5Z"/>
<path class="k" d="M1543.2 1505.85H1713.4V1510.46H1543.2ZM1543.2 1532.36H1678.3V1536.96H1543.2ZM1543.2 1558.86H1662.6V1563.46H1543.2ZM1543.2 1585.37H1566.8V1589.97H1543.2ZM1543.2 1611.87H1560.6V1616.47H1543.2ZM1540.7 1664.88H1543.2V1669.48H1540.7ZM1539.7 1691.39H1543.2V1695.99H1539.7ZM1534.4 1717.89H1543.2V1722.49H1534.4ZM1529 1744.4H1543.2V1749H1529ZM1527.5 1770.9H1543.2V1775.5H1527.5ZM1526.6 1797.4H1543.2V1802H1526.6ZM1521.6 1823.91H1543.2V1828.51H1521.6ZM1517.3 1850.41H1543.2V1855.01H1517.3ZM1516.5 1876.92H1543.2V1881.52H1516.5ZM1514.2 1903.42H1543.2V1908.02H1514.2ZM1512.9 1929.93H1543.2V1934.53H1512.9ZM1506.7 1956.43H1543.2V1961.03H1506.7ZM1505.1 1982.94H1543.2V1987.54H1505.1ZM1500.7 2009.44H1543.2V2014.04H1500.7ZM1474 2035.94H1543.2V2040.55H1474Z"/>
<path class="bh" d="M1543.2 1482.83H1740.8M1543.2 1506.98H1740.8M1543.2 1509.33H1713.4M1543.2 1533.48H1713.4M1543.2 1535.83H1678.3M1543.2 1559.99H1678.3M1543.2 1562.34H1662.6M1543.2 1586.49H1662.6M1543.2 1588.84H1566.8M1543.2 1613H1566.8M1543.2 1615.35H1560.6M1543.2 1639.5H1560.6M1540.7 1641.85H1543.2M1540.7 1666.01H1543.2M1539.7 1668.36H1543.2M1539.7 1692.51H1543.2M1534.4 1694.86H1543.2M1534.4 1719.02H1543.2M1529 1721.37H1543.2M1529 1745.52H1543.2M1527.5 1747.87H1543.2M1527.5 1772.02H1543.2M1526.6 1774.38H1543.2M1526.6 1798.53H1543.2M1521.6 1800.88H1543.2M1521.6 1825.03H1543.2M1517.3 1827.38H1543.2M1517.3 1851.54H1543.2M1516.5 1853.89H1543.2M1516.5 1878.04H1543.2M1514.2 1880.39H1543.2M1514.2 1904.55H1543.2M1512.9 1906.9H1543.2M1512.9 1931.05H1543.2M1506.7 1933.4H1543.2M1506.7 1957.56H1543.2M1505.1 1959.91H1543.2M1505.1 1984.06H1543.2M1500.7 1986.41H1543.2M1500.7 2010.57H1543.2M1474 2012.92H1543.2M1474 2037.07H1543.2M1460.5 2039.42H1543.2M1460.5 2063.57H1543.2"/>
<path class="bv" d="M1543.2 1481.7V1508.1M1740.8 1481.7V1508.1M1543.2 1508.21V1534.61M1713.4 1508.21V1534.61M1543.2 1534.71V1561.11M1678.3 1534.71V1561.11M1543.2 1561.21V1587.62M1662.6 1561.21V1587.62M1543.2 1587.72V1614.12M1566.8 1587.72V1614.12M1543.2 1614.22V1640.63M1560.6 1614.22V1640.63M1540.7 1640.73V1667.13M1543.2 1640.73V1667.13M1539.7 1667.23V1693.64M1543.2 1667.23V1693.64M1534.4 1693.74V1720.14M1543.2 1693.74V1720.14M1529 1720.24V1746.65M1543.2 1720.24V1746.65M1527.5 1746.75V1773.15M1543.2 1746.75V1773.15M1526.6 1773.25V1799.65M1543.2 1773.25V1799.65M1521.6 1799.75V1826.16M1543.2 1799.75V1826.16M1517.3 1826.26V1852.66M1543.2 1826.26V1852.66M1516.5 1852.76V1879.17M1543.2 1852.76V1879.17M1514.2 1879.27V1905.67M1543.2 1879.27V1905.67M1512.9 1905.77V1932.18M1543.2 1905.77V1932.18M1506.7 1932.28V1958.68M1543.2 1932.28V1958.68M1505.1 1958.78V1985.19M1543.2 1958.78V1985.19M1500.7 1985.29V2011.69M1543.2 1985.29V2011.69M1474 2011.79V2038.19M1543.2 2011.79V2038.19M1460.5 2038.3V2064.7M1543.2 2038.3V2064.7"/>
<path class="e" d="M1494.3 1494.9H1988.1M1343.7 1521.41H2083.8M1309.8 1547.91H2047.2M1563.4 1574.42H1762.1M1517.3 1600.92H1616.7M1499.4 1627.43H1623M1457.4 1653.93H1623.9M1490.9 1680.43H1587.9M1505.4 1706.94H1563M1357.7 1733.44H1700.1M1508.7 1759.95H1545.1M1489 1786.45H1563.1M1414.6 1812.96H1628.4M1494.1 1839.46H1539.3M1465.8 1865.97H1566.2M1495.4 1892.47H1532.7M1428.9 1918.97H1596.9M1452.3 1945.48H1560.6M1434.3 1971.98H1574.9M1473.6 1998.49H1527.9M1438.8 2024.99H1508.8M1332.6 2051.5H1588.6"/>
<line class="d" x1="1565.4" x2="1565.4" y1="2067.4" y2="1479" stroke-dashoffset="0"/>
<path class="xa" d="M1270.2 2067.4H2122.3"/>
<path class="ya" d="M1271.5 1479V2068.58"/>
<path class="yt" d="M1271.5 1494.9h-6.4M1271.5 1521.41h-6.4M1271.5 1547.91h-6.4M1271.5 1574.42h-6.4M1271.5 1600.92h-6.4M1271.5 1627.43h-6.4M1271.5 1653.93h-6.4M1271.5 1680.43h-6.4M1271.5 1706.94h-6.4M1271.5 1733.44h-6.4M1271.5 1759.95h-6.4M1271.5 1786.45h-6.4M1271.5 1812.96h-6.4M1271.5 1839.46h-6.4M1271.5 1865.97h-6.4M1271.5 1892.47h-6.4M1271.5 1918.97h-6.4M1271.5 1945.48h-6.4M1271.5 1971.98h-6.4M1271.5 1998.49h-6.4M1271.5 2024.99h-6.4M1271.5 2051.5h-6.4"/>
<path class="xt" d="M1319.5 2067.4v6.4M1542.9 2067.4v6.4M1766.4 2067.4v6.4M1989.8 2067.4v6.4"/>
<text class="l y" x="1259" y="1502">Birth weight</text>
<text class="l y" x="1259" y="1528.51">LDL</text>
<text class="l y" x="1259" y="1555.01">Diabetes</text>
<text class="l y" x="1259" y="1581.52">Townsend</text>
<text class="l y" x="1259" y="1608.02">SBP</text>
<text class="l y" x="1259" y="1634.53">RBC count</text>
<text class="l y" x="1259" y="1661.03">ALT</text>
<text class="l y" x="1259" y="1687.53">Alcohol frequency</text>
<text class="l y" x="1259" y="1714.04">Height</text>
<text class="l y" x="1259" y="1740.54">Asthma</text>
<text class="l y" x="1259" y="1767.05">BMI</text>
<text class="l y" x="1259" y="1793.55">HbA1c</text>
<text class="l y" x="1259" y="1820.06">Osteoarthritis</text>
<text class="l y" x="1259" y="1846.56">IGF−1</text>
<text class="l y" x="1259" y="1873.07">ID time</text>
<text class="l y" x="1259" y="1899.57">FEV1</text>
<text class="l y" x="1259" y="1926.07">Calcium</text>
<text class="l y" x="1259" y="1952.58">FIS</text>
<text class="l y" x="1259" y="1979.08">Neuroticism</text>
<text class="l y" x="1259" y="2005.59">BMD</text>
<text class="l y" x="1259" y="2032.09">Platelet count</text>
<text class="l y" x="1259" y="2058.6">Cancer</text>
<text class="l x" x="1319.5" y="2094.2">−10</text>
<text class="l x" x="1542.9" y="2094.2">0</text>
<text class="l x" x="1766.4" y="2094.2">10</text>
<text class="l x" x="1989.8" y="2094.2">20</text>
<text class="l x" x="1696.9" y="2120">Enrichment (SE)</text>
</g>
</svg></body></html>
